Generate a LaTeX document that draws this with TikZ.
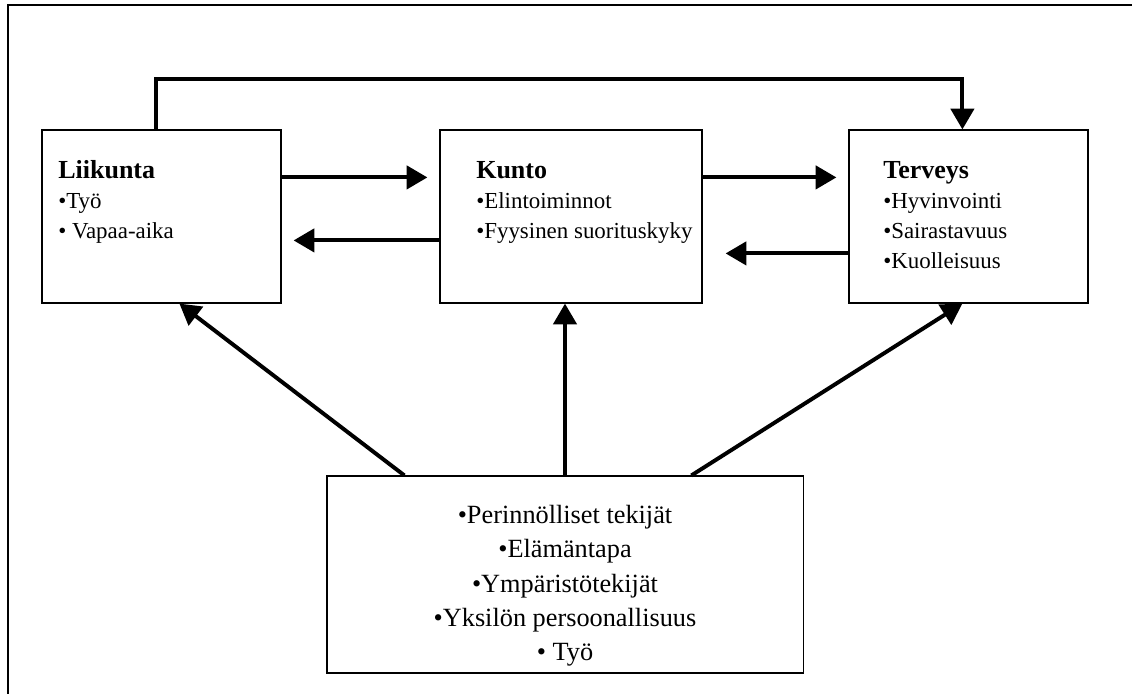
\documentclass[tikz,border=0pt]{standalone}
\usepackage{fontspec}
\setmainfont{Liberation Serif}
\usetikzlibrary{arrows.meta,positioning,calc}
\newcommand{\titlefont}{\fontsize{18.5}{21.3}\selectfont\bfseries}
\tikzset{
  box/.style={draw, line width=0.8pt, minimum width=#1, minimum height=4.325cm, inner sep=0pt},
  boxtext/.style={inner sep=0pt, align=left, font=\fontsize{16.3}{21.3}\selectfont},
  factext/.style={inner sep=0pt, align=center, font=\fontsize{18.7}{24.4}\selectfont},
  flow/.style={line width=2.8pt, -{Triangle[length=5.2mm,width=5.8mm]}}
}

\begin{document}
\begin{tikzpicture}[x=0.025cm, y=-0.025cm]
    \useasboundingbox (0,0) rectangle (1132,693);
    % Frame
    \draw[line width=1.1pt] (8,5) rectangle (1160,720);

    % Boxes
    \node[box=5.975cm] (lik) at (161.5,216.5) {};
    \node[box=6.55cm] (kun) at (571,216.5) {};
    \node[box=5.975cm] (ter) at (968.5,216.5) {};
    \node[box=11.9cm, minimum height=4.925cm] (fac) at (565,574.5) {};

    % Texts
    \node[boxtext, anchor=north west] (likTxt) at (58,160) {{\titlefont Liikunta}\\•Työ\\• Vapaa-aika};
    \node[boxtext, anchor=north west] (kunTxt) at (476,161) {{\titlefont Kunto}\\•Elintoiminnot\\•Fyysinen suorituskyky};
    \node[boxtext, anchor=north west] (terTxt) at (883,161) {{\titlefont Terveys}\\•Hyvinvointi\\•Sairastavuus\\•Kuolleisuus};
    \node[factext, anchor=north] (facTxt) at (565,505) {•Perinnölliset tekijät\\•Elämäntapa\\•Ympäristötekijät\\•Yksilön persoonallisuus\\• Työ};

    % Arrows between boxes
    \draw[flow, shorten >=0.3cm] ($(lik.north east)+(0,48)$) -- ($(kun.north west)+(0,48)$);
    \draw[flow, shorten >=0.3cm] ($(kun.north west)+(0,111)$) -- ($(lik.north east)+(0,111)$);
    \draw[flow, shorten >=0.3cm] ($(kun.north east)+(0,48)$) -- ($(ter.north west)+(0,48)$);
    \draw[flow, shorten >=0.575cm] ($(ter.north west)+(0,124)$) -- ($(kun.north east)+(0,124)$);
    \draw[flow] ($(lik.north west)+(115,0)$) -- ++(0,-50) -| ($(ter.north west)+(114,0)$);

    % Arrows from factors
    \draw[flow] ($(fac.north west)+(78,0)$) -- ($(lik.south west)+(138,0)$);
    \draw[flow] (fac.north) -- (fac.north |- kun.south);
    \draw[flow] ($(fac.north west)+(365,0)$) -- ($(ter.south west)+(114,0)$);
\end{tikzpicture}
\end{document}
